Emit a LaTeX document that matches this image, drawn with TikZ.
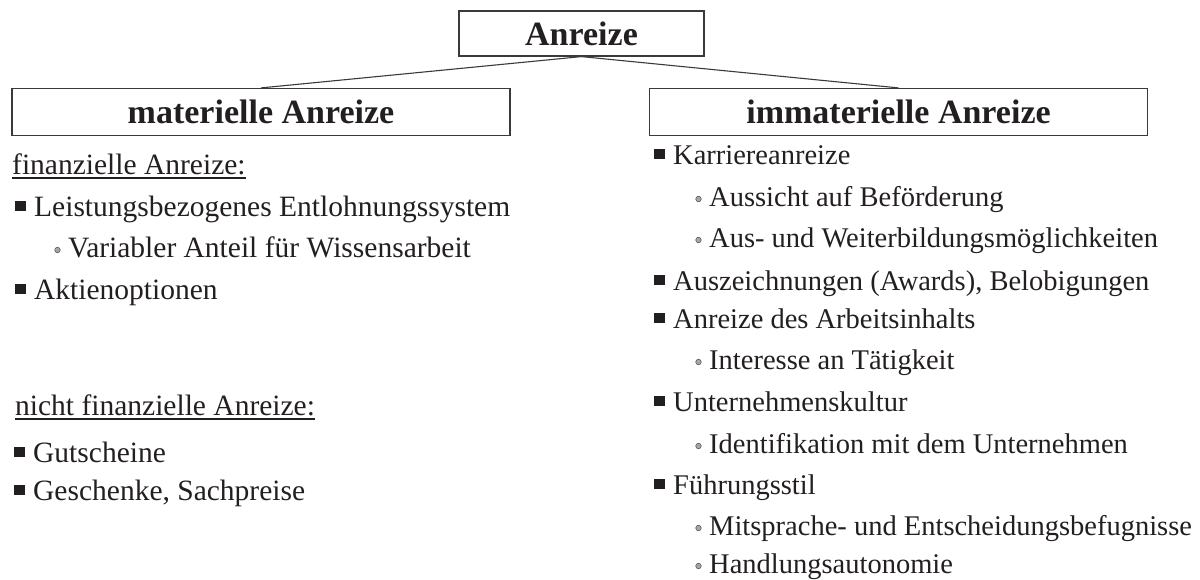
\documentclass[tikz,border=0pt]{standalone}
\usepackage{fontspec}
\setmainfont{Liberation Serif}
\definecolor{ink}{HTML}{231F20}
\definecolor{frame}{HTML}{3A3A3A}
\tikzset{
  box/.style={draw=frame, line width=1.2pt, inner sep=0pt, text=ink,
              font=\fontsize{34}{36}\selectfont\bfseries},
  conn/.style={draw=frame, line width=1.1pt},
  txt/.style={anchor=base west, inner sep=0pt, text=ink,
              font=\fontsize{28.5}{30}\selectfont},
  ltxt/.style={txt, font=\fontsize{29.5}{31}\selectfont},
  sqbul/.style={fill=ink, minimum width=11pt, minimum height=10.5pt, inner sep=0pt},
  dotbul/.style={circle, draw=black!65, fill=black!35, minimum size=5.5pt,
                 inner sep=0pt, line width=0.6pt},
  uline/.style={draw=ink, line width=1.4pt}
}
% #1 name, #2 text style, #3 x, #4 baseline y, #5 text
\newcommand{\sqitem}[5]{%
  \node[#2] (#1) at (#3,#4) {#5};
  \node[sqbul] (#1-b) at ([xshift=-14pt, yshift=10pt]#1.base west) {};
}
\newcommand{\dotitem}[5]{%
  \node[#2] (#1) at (#3,#4) {#5};
  \node[dotbul] (#1-b) at ([xshift=-10.5pt, yshift=7pt]#1.base west) {};
}
\begin{document}
\begin{tikzpicture}[x=1pt, y=-1pt]
\useasboundingbox (0,0) rectangle (1200,579);

% boxes
\node[box, minimum width=245pt, minimum height=45pt] (top) at (581.5,33.5) {Anreize};
\node[box, minimum width=498pt, minimum height=47pt] (mat) at (261,112) {materielle Anreize};
\node[box, minimum width=498pt, minimum height=47pt] (imm) at (898.5,112) {immaterielle Anreize};

\draw[conn] (top.south) -- (mat.north);
\draw[conn] (top.south) -- (imm.north);

% left column
\node[ltxt] (fin) at (12,174) {finanzielle Anreize:};
\draw[uline] ([yshift=-4pt]fin.base west) -- ([yshift=-4pt]fin.base east);
\sqitem{l1}{ltxt}{34}{216}{Leistungsbezogenes Entlohnungssystem}
\dotitem{l2}{ltxt}{68}{257}{Variabler Anteil für Wissensarbeit}
\sqitem{l3}{ltxt}{34}{299}{Aktienoptionen}

\node[ltxt] (nfin) at (15,415) {nicht finanzielle Anreize:};
\draw[uline] ([yshift=-4pt]nfin.base west) -- ([yshift=-4pt]nfin.base east);
\sqitem{l4}{ltxt}{33}{462}{Gutscheine}
\sqitem{l5}{ltxt}{33}{500}{Geschenke, Sachpreise}

% right column
\sqitem{r1}{txt}{673}{164}{Karriereanreize}
\dotitem{r2}{txt}{709}{206}{Aussicht auf Beförderung}
\dotitem{r3}{txt}{709}{247}{Aus- und Weiterbildungsmöglichkeiten}
\sqitem{r4}{txt}{673}{290}{Auszeichnungen (Awards), Belobigungen}
\sqitem{r5}{txt}{673}{328}{Anreize des Arbeitsinhalts}
\dotitem{r6}{txt}{709}{369}{Interesse an Tätigkeit}
\sqitem{r7}{txt}{673}{411}{Unternehmenskultur}
\dotitem{r8}{txt}{709}{453}{Identifikation mit dem Unternehmen}
\sqitem{r9}{txt}{673}{494}{Führungsstil}
\dotitem{r10}{txt}{709}{535}{Mitsprache- und Entscheidungsbefugnisse}
\dotitem{r11}{txt}{709}{573}{Handlungsautonomie}
\end{tikzpicture}
\end{document}
